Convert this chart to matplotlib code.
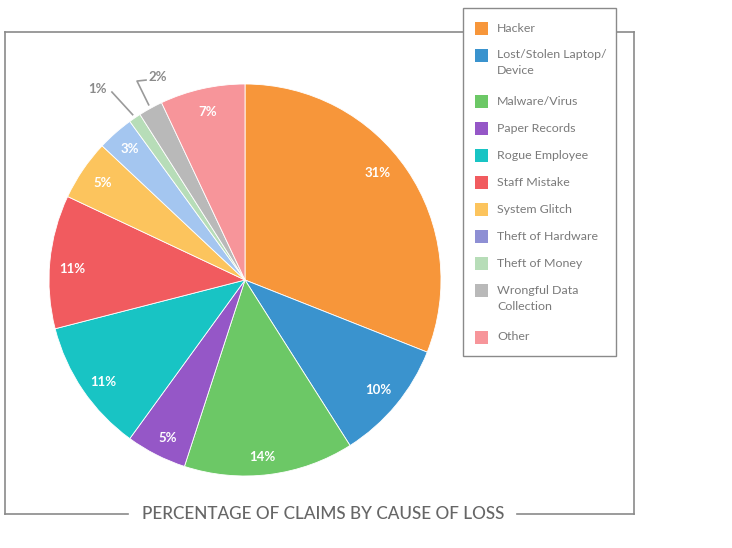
import numpy as np
import matplotlib
matplotlib.use("Agg")
import matplotlib.pyplot as plt
from matplotlib.patches import Rectangle

categories = ["Hacker", "Lost/Stolen Laptop/\nDevice", "Malware/Virus", "Paper Records",
              "Rogue Employee", "Staff Mistake", "System Glitch", "Theft of Hardware",
              "Theft of Money", "Wrongful Data\nCollection", "Other"]
values = [31, 10, 14, 5, 11, 11, 5, 3, 1, 2, 7]
pct_labels = ["31%", "10%", "14%", "5%", "11%", "11%", "5%", "3%", "1%", "2%", "7%"]
slice_colors = ["#F7963A", "#3A93CE", "#6CC866", "#9557C7", "#18C4C4", "#F15B5F",
                "#FCC45D", "#A4C6F0", "#B7DDB8", "#B9B9B9", "#F7959A"]
legend_colors = ["#F7963A", "#3A93CE", "#6CC866", "#9557C7", "#18C4C4", "#F15B5F",
                 "#FCC45D", "#8E8FD4", "#B7DDB8", "#B9B9B9", "#F7959A"]
title = "PERCENTAGE OF CLAIMS BY CAUSE OF LOSS"

W, H = 732, 548
fig = plt.figure(figsize=(W / 100, H / 100), dpi=100)
fig.patch.set_facecolor("white")
FONT = ["Lato", "DejaVu Sans"]
GRAY = "#8a8a8a"

# overlay axes in pixel coordinates
ov = fig.add_axes([0, 0, 1, 1])
ov.set_xlim(0, W)
ov.set_ylim(H, 0)
ov.axis("off")

# frame
lw = 1.2
ov.plot([5, 634], [32, 32], color=GRAY, lw=lw, zorder=1)
ov.plot([5, 5], [32, 514], color=GRAY, lw=lw, zorder=1)
ov.plot([634, 634], [32, 514], color=GRAY, lw=lw, zorder=1)
ov.plot([5, 128], [514, 514], color=GRAY, lw=lw, zorder=1)
ov.plot([517, 634], [514, 514], color=GRAY, lw=lw, zorder=1)
ov.text(323.5, 514, title, ha="center", va="center", fontsize=12.3, color="#666666",
        family=FONT, fontweight="medium")

# legend box
ov.add_patch(Rectangle((463, 8), 153, 348, facecolor="white", edgecolor=GRAY, lw=1.0, zorder=3))
y = 28
for lab, col in zip(categories, legend_colors):
    ov.add_patch(Rectangle((475, y - 6.5), 13, 13, facecolor=col, edgecolor="none", zorder=4))
    nlines = lab.count("\n") + 1
    ov.text(497, y - 5.5, lab, ha="left", va="top", fontsize=8.9, color="#7a7a7a",
            family=FONT, linespacing=1.55, zorder=5)
    y += 27 + 19.5 * (nlines - 1)

# pie axes: centre (245, 280) px, radius 196 px
R = 196
cx, cy = 245, 280
ax = fig.add_axes([(cx - 1.25 * R) / W, (H - cy - 1.25 * R) / H, 2.5 * R / W, 2.5 * R / H])
wedges, _ = ax.pie(values, colors=slice_colors, startangle=90, counterclock=False,
                   wedgeprops=dict(edgecolor="white", linewidth=0.6))
ax.set_xlim(-1.25, 1.25)
ax.set_ylim(-1.25, 1.25)
ax.set_aspect("equal")
ax.axis("off")

# small pixel nudges for inner labels (dx, dy in px, y down)
nudge = {0: (-10, -10), 2: (-4, 6), 3: (1, 4), 4: (1, 5), 5: (-1, 5), 7: (-1, -2)}
outside = {8: [(-0.755, 0.974), [(-0.679, 0.959)]],
           9: [(-0.444, 1.036), [(-0.505, 1.020), (-0.551, 1.015)]]}
for i, (w, lab) in enumerate(zip(wedges, pct_labels)):
    ang = np.deg2rad((w.theta1 + w.theta2) / 2)
    if i in outside:
        tpos, elbows = outside[i]
        end = (1.02 * np.cos(ang), 1.02 * np.sin(ang))
        pts = elbows + [end]
        ax.plot([p[0] for p in pts], [p[1] for p in pts], color="#9a9a9a", lw=1.2,
                clip_on=False)
        ax.text(tpos[0], tpos[1], lab, ha="center", va="center", fontsize=9.5,
                color="#8a8a8a", fontweight="bold", family=FONT)
    else:
        d = 0.88
        dx, dy = nudge.get(i, (0, 0))
        ax.text(d * np.cos(ang) + dx / R, d * np.sin(ang) - dy / R, lab, ha="center",
                va="center", fontsize=9.5, color="white", fontweight="bold", family=FONT)

fig.savefig("out.png", dpi=100, facecolor="white")
